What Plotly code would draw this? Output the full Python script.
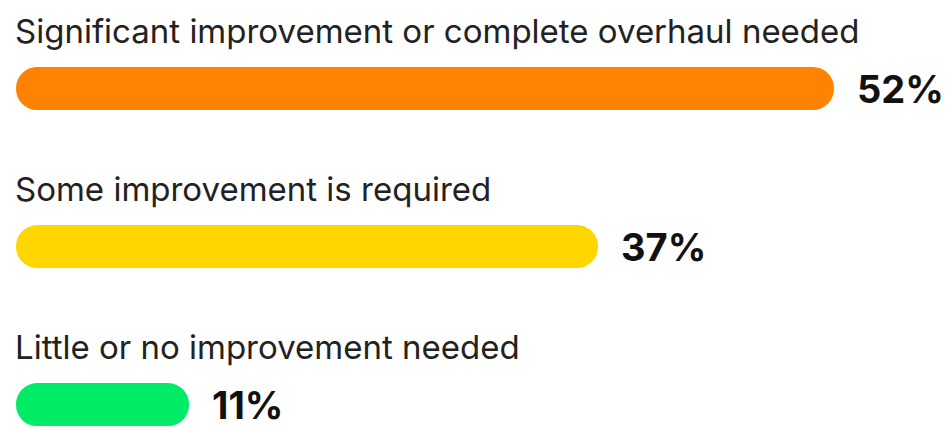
import plotly.graph_objects as go

categories = [
    "Significant improvement or complete overhaul needed",
    "Some improvement is required",
    "Little or no improvement needed",
]
values = [52, 37, 11]
colors = ["#FF8200", "#FFD600", "#00EC66"]

W, H = 951, 427
bases = [0 for _ in values]

fig = go.Figure()
fig.add_trace(go.Bar(
    x=values, base=bases, y=categories, orientation="h",
    marker=dict(color=colors, cornerradius="50%", line=dict(width=0)),
    width=0.272, hoverinfo="skip",
))

font_family = "Inter, Lato, sans-serif"
for cat, v in zip(categories, values):
    fig.add_annotation(x=0, y=cat, xref="x", yref="y", text=cat,
                       xanchor="left", yanchor="middle", yshift=58, xshift=-3,
                       showarrow=False,
                       font=dict(family=font_family, size=33, color="#222222"))
    fig.add_annotation(x=v, y=cat, xref="x", yref="y", text=f"<b>{v}%</b>",
                       xanchor="left", yanchor="middle", xshift=21, yshift=0,
                       height=40, showarrow=False,
                       font=dict(family=font_family, size=38, color="#111111"))

fig.update_layout(
    width=W, height=H,
    margin=dict(l=16, r=0, t=0, b=0),
    paper_bgcolor="white", plot_bgcolor="white",
    showlegend=False, barmode="overlay",
    xaxis=dict(range=[0, 52 * 935 / 818], visible=False, fixedrange=True),
    yaxis=dict(range=[2.142, -0.56], visible=False, type="category", fixedrange=True),
)
fig.write_html("out.html")
